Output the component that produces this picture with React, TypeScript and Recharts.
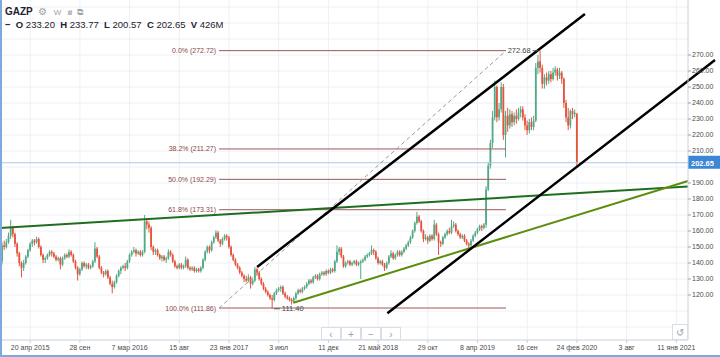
import React from "react";
import { ComposedChart, Bar, XAxis, YAxis, CartesianGrid, ReferenceLine } from "recharts";

// weekly candles [open, high, low, close], first bar = week of 19 Jan 2015
const candles2015 = [
  [141, 153, 139, 151], [151, 154, 148, 150], [150, 155, 149, 153], [153, 159, 152, 157], [157, 167, 155, 162],
  [162, 163, 156, 158], [158, 159, 150, 152], [152, 153, 144, 146], [146, 147, 138, 140], [140, 141, 131, 137],
  [137, 142, 135, 140], [140, 145, 139, 144], [144, 149, 143, 148], [148, 153, 147, 152], [152, 155, 150, 154],
  [154, 155, 151, 153], [153, 156.5, 152, 155], [155, 156, 149, 150], [150, 151, 144, 145], [145, 146, 140, 142],
  [142, 144, 140, 143], [143, 146, 142, 145], [145, 148, 144, 147], [147, 148, 144, 146], [146, 147, 143, 144],
  [144, 145, 141, 142], [142, 144, 141, 143], [143, 144, 136, 139], [139, 144, 138, 143], [143, 146, 142, 145],
  [145, 146, 143, 144], [144, 148.5, 143, 147], [147, 148, 144, 145], [145, 146, 140, 141], [141, 142, 136, 137],
  [137, 138, 129, 133], [133, 137, 132, 136], [136, 141, 135, 140], [140, 141, 137, 138], [138, 140, 136, 139],
  [139, 140, 136, 137], [137, 139, 136, 138], [138, 142, 137, 141], [141, 153, 140, 149], [149, 150, 143, 144],
  [144, 145, 136, 137], [137, 138, 133, 134], [134, 135, 131, 133], [133, 136, 132, 135], [135, 136, 130, 131],
];
const candles2016 = [
  [131, 132, 126, 127], [127, 129, 121, 125], [125, 129, 124, 128], [128, 133, 127, 132], [132, 136, 131, 135],
  [135, 138, 133, 137], [137, 139, 136, 138], [138, 140, 135, 137], [137, 142, 136, 141], [141, 146, 140, 145],
  [145, 148, 144, 147], [147, 150, 146, 148], [148, 149, 144, 146], [146, 148, 145, 147], [147, 148, 144, 145],
  [145, 148, 144, 147], [147, 170, 146, 166], [166, 168, 161, 164], [164, 166, 159, 162], [162, 163, 148, 150],
  [150, 151, 145, 147], [147, 149, 145, 148], [148, 149, 144, 145], [145, 146, 142, 143], [143, 145, 141, 144],
  [144, 145, 141, 142], [142, 144, 140, 143], [143, 148.5, 142, 147], [147, 148, 144, 145], [145, 146, 140, 141],
  [141, 142, 137, 138], [138, 139, 136, 137], [137, 140, 136, 139], [139, 140, 136, 137], [137, 139, 136, 138],
  [138, 144, 137, 142], [142, 143, 136, 137], [137, 138, 135, 136], [136, 138, 135, 137], [137, 138, 134, 135],
  [135, 137, 134, 136], [136, 137, 134, 135], [135, 138, 134, 137], [137, 143, 136, 142], [142, 148, 141, 147],
  [147, 151, 146, 150], [150, 151, 146, 148], [148, 154, 147, 153], [153, 157, 152, 156], [156, 160.5, 155, 159],
  [159, 160, 153, 154], [154, 155, 150, 152],
];
const candles2017 = [
  [152, 156, 151, 155], [155, 158, 154, 157], [157, 158, 154, 156], [156, 157, 149, 150], [150, 151, 144, 145],
  [145, 146, 141, 142], [142, 143, 138, 139], [139, 140, 136, 137], [137, 138, 133, 134], [134, 135, 131, 132],
  [132, 133, 128, 130], [130, 132, 128, 129], [129, 133, 128, 131], [131, 132, 124, 127], [127, 130, 126, 129],
  [129, 137.5, 128, 136], [136, 137, 132, 134], [134, 135, 129, 130], [130, 131, 126, 127], [127, 128, 123, 124],
  [124, 125, 121, 122], [122, 123, 119, 120], [120, 121, 117, 118], [118, 120, 111.4, 117], [117, 122, 116, 121],
  [121, 124, 120, 123], [123, 125, 122, 124], [124, 126, 122, 125], [125, 126, 120, 121], [121, 122, 118, 119],
  [119, 120, 117, 118], [118, 119, 116, 117], [117, 118, 114, 116], [116, 119, 115, 118], [118, 122, 117, 121],
  [121, 124, 120, 123], [123, 124, 121, 122], [122, 125, 121, 124], [124, 126, 123, 125], [125, 128, 124, 127],
  [127, 130, 126, 129], [129, 130, 127, 128], [128, 132, 127, 131], [131, 133, 130, 132], [132, 133, 129, 130],
  [130, 134, 129, 133], [133, 135, 132, 134], [134, 135, 132, 133], [133, 136, 132, 135], [135, 136, 133, 134],
  [134, 137, 133, 136], [136, 137, 134, 135],
];
const candles2018 = [
  [135, 142, 134, 141], [141, 151, 140, 147], [147, 150, 145, 149], [149, 150, 143, 144], [144, 145, 137, 138],
  [138, 141, 137, 140], [140, 142, 139, 141], [141, 142, 138, 139], [139, 141, 138, 140], [140, 142, 139, 141],
  [141, 142, 138, 139], [139, 141, 138, 140], [140, 142, 130, 141], [141, 143, 140, 142], [142, 145, 141, 144],
  [144, 146, 143, 145], [145, 147, 144, 146], [146, 151, 145, 148], [148, 149, 145, 147], [147, 148, 142, 143],
  [143, 144, 139, 140], [140, 142, 139, 141], [141, 142, 138, 139], [139, 140, 135, 137], [137, 141, 136, 140],
  [140, 145, 139, 144], [144, 148, 143, 146], [146, 147, 142, 143], [143, 146, 142, 145], [145, 148, 144, 147],
  [147, 148, 144, 145], [145, 148, 144, 147], [147, 150, 146, 149], [149, 152, 148, 151], [151, 154, 150, 153],
  [153, 157, 152, 156], [156, 161, 155, 160], [160, 166, 159, 165], [165, 172, 164, 169], [169, 170, 165, 166],
  [166, 167, 159, 160], [160, 161, 153, 155], [155, 158, 154, 156], [156, 157, 152, 154], [154, 158, 153, 157],
  [157, 158, 154, 155], [155, 167, 154, 164], [164, 165, 157, 158], [158, 159, 145, 153], [153, 154, 150, 152],
  [152, 157, 151, 156], [156, 159, 155, 158],
];
const candles2019 = [
  [158, 161, 157, 160], [160, 162, 158, 159], [159, 167, 158, 163], [163, 166, 162, 164], [164, 165, 159, 160],
  [160, 161, 157, 158], [158, 159, 155, 156], [156, 158, 155, 157], [157, 158, 153, 154], [154, 155, 151, 152],
  [152, 153, 149, 151], [151, 155, 150, 154], [154, 158, 153, 157], [157, 160, 156, 159], [159, 162, 158, 161],
  [161, 164, 160, 163], [163, 164, 160, 162], [162, 165, 161, 164], [164, 188, 162, 186], [186, 203, 185, 201],
  [201, 217, 199, 215], [215, 235, 212, 231], [231, 254, 229, 250], [250, 251, 228, 231], [231, 240, 229, 236],
  [236, 253, 234, 250], [250, 252, 217, 220], [220, 235, 206, 232], [232, 237, 222, 226], [226, 236, 224, 233],
  [233, 235, 225, 228], [228, 234, 226, 232], [232, 236, 227, 230], [230, 237, 229, 234], [234, 238, 231, 236],
  [236, 238, 229, 231], [231, 233, 223, 226], [226, 229, 220, 223], [223, 230, 221, 228], [228, 231, 223, 225],
  [225, 232, 223, 229], [229, 265, 228, 262], [262, 270, 258, 266], [266, 272.68, 259, 262], [262, 264, 249, 252],
  [252, 258, 249, 256], [256, 259, 251, 254], [254, 260, 252, 258], [258, 260, 253, 255], [255, 262, 254, 259],
  [259, 263, 257, 261], [261, 262, 254, 257],
];
const candles2020 = [
  [257, 262, 255, 259], [259, 260, 252, 255], [255, 256, 237, 240], [240, 242, 228, 231], [231, 237, 223, 226],
  [226, 236, 224, 235], [235, 237, 230, 233], [233, 236, 231, 234], [233.2, 233.77, 200.57, 202.65],
];

const START = Date.UTC(2015, 0, 19);
const allCandles = [...candles2015, ...candles2016, ...candles2017, ...candles2018, ...candles2019, ...candles2020];
const data = allCandles.map(([o, h, l, c], i) => ({
  w: i,
  date: new Date(START + i * 7 * 864e5).toISOString().slice(0, 10),
  o, h, l, c,
}));

// time axis: week index of each label
const dateTicks = [13, 36, 59, 82, 105, 128, 151, 174, 197, 220, 243, 266, 289, 312];
const dateLabels = [
  "20 апр 2015", "28 сен", "7 мар 2016", "15 авг", "23 янв 2017", "3 июл", "11 дек",
  "21 май 2018", "29 окт", "8 апр 2019", "16 сен", "24 фев 2020", "3 авг", "11 янв 2021",
];
const priceTicks = [120, 130, 140, 150, 160, 170, 180, 190, 210, 220, 230, 240, 250, 260, 270];
const gridPrices = [100, 110, 120, 130, 140, 150, 160, 170, 180, 190, 200, 210, 220, 230, 240, 250, 260, 270, 280, 290, 300];

const lastClose = 202.65;
const highMark = { w: 249, price: 272.68 };
const lowMark = { w: 125, price: 111.4 };

// fibonacci retracement drawing (anchors in week index / price)
const fibFrom = 100.4;
const fibTo = 233.2;
const fibLevels = [
  { label: "0.0% (272.72)", price: 272.72 },
  { label: "38.2% (211.27)", price: 211.27 },
  { label: "50.0% (192.29)", price: 192.29 },
  { label: "61.8% (173.31)", price: 173.31 },
  { label: "100.0% (111.86)", price: 111.86 },
];

// hand-drawn trend lines
const fibTrend = [{ x: 100.4, y: 111.86 }, { x: 233.2, y: 272.72 }];
const resistance = [{ x: -0.97, y: 161.9 }, { x: 317.4, y: 187.8 }];
const support = [{ x: 134.75, y: 115.2 }, { x: 317.4, y: 191.25 }];
const channelTop = [{ x: 118.0, y: 137.5 }, { x: 269.7, y: 295.6 }];
const channelBottom = [{ x: 178.3, y: 108.6 }, { x: 329.9, y: 266.9 }];

const UP = "#53a985";
const DOWN = "#e5533c";
const FIB = "#9b5858";
const FONT = "'Liberation Sans', Arial, sans-serif";

const Candle = (props: any) => {
  const { x, y, width, height, payload } = props;
  if (payload == null || x == null) return null;
  const { o, h, l, c } = payload;
  const top = Math.min(y, y + height);
  const full = Math.abs(height);
  const ppu = h > l ? full / (h - l) : 0;
  const color = c >= o ? UP : DOWN;
  const cx = x + width / 2;
  const bodyTop = top + (h - Math.max(o, c)) * ppu;
  const bodyH = Math.max(1, Math.abs(o - c) * ppu);
  return (
    <g>
      <line x1={cx} x2={cx} y1={top} y2={top + full} stroke={color} strokeWidth={1} />
      <rect x={cx - 0.9} y={bodyTop} width={1.8} height={bodyH} fill={color} />
    </g>
  );
};

const PriceTag = (props: any) => {
  const vb = props.viewBox || {};
  const right = (vb.x || 0) + (vb.width || 0);
  const yy = vb.y || 0;
  return (
    <g>
      <rect x={right} y={yy - 7} width={32} height={13} fill="#3b87d6" />
      <text x={right + 3} y={yy + 3} fontSize={7.5} fontFamily={FONT} fill="#fff" fontWeight="bold">
        {lastClose.toFixed(2)}
      </text>
    </g>
  );
};

const navBtn: React.CSSProperties = {
  width: 20, height: 13, border: "1px solid #d9dee6", background: "#fff",
  color: "#9aa0a8", fontSize: 10, lineHeight: "13px", textAlign: "center", boxSizing: "border-box",
};

export default function App() {
  return (
    <div style={{ position: "fixed", left: 0, top: 0, width: 720, height: 357, background: "#fff", fontFamily: FONT, overflow: "hidden" }}>
      <ComposedChart width={720} height={357} data={data} margin={{ top: 0, right: 0, bottom: 0, left: 0 }}>
        <CartesianGrid stroke="#eef0f3" horizontalValues={gridPrices} verticalValues={dateTicks} />
        <XAxis
          dataKey="w"
          type="number"
          domain={[-0.97, 317.4]}
          allowDataOverflow
          ticks={dateTicks}
          tickFormatter={(v: number) => dateLabels[dateTicks.indexOf(v)] ?? ""}
          height={17}
          tick={{ fontSize: 7, fill: "#4a4a4a", fontFamily: FONT }}
          tickSize={3}
          tickMargin={2}
          tickLine={{ stroke: "#c9d1de" }}
          axisLine={{ stroke: "#c9d1de" }}
          interval={0}
        />
        <YAxis
          orientation="right"
          type="number"
          domain={[91.875, 304.375]}
          allowDataOverflow
          ticks={priceTicks}
          tickFormatter={(v: number) => v.toFixed(2)}
          width={32}
          tick={{ fontSize: 7, fill: "#4a4a4a", fontFamily: FONT, textAnchor: "start" }}
          tickSize={3}
          tickMargin={1}
          tickLine={{ stroke: "#9aa3b0" }}
          axisLine={{ stroke: "#c9d1de" }}
          interval={0}
        />
        <ReferenceLine y={lastClose} stroke="#a9c8ea" strokeWidth={1} label={<PriceTag />} />
        {fibLevels.map((f) => (
          <ReferenceLine
            key={f.label}
            segment={[{ x: fibFrom, y: f.price }, { x: fibTo, y: f.price }]}
            stroke={FIB}
            strokeWidth={1}
            ifOverflow="visible"
            label={{ value: f.label, position: "left", offset: 3, fontSize: 7, fill: "#8a4646", fontFamily: FONT }}
          />
        ))}
        <ReferenceLine segment={fibTrend} stroke="#9a9a9a" strokeDasharray="4 3" strokeWidth={1} ifOverflow="visible" />
        <Bar dataKey={(d: any) => [d.l, d.h]} shape={<Candle />} barSize={2} isAnimationActive={false} />
        <ReferenceLine segment={resistance} stroke="#1f6e1f" strokeWidth={2} ifOverflow="visible" />
        <ReferenceLine segment={support} stroke="#5e8c0c" strokeWidth={2} ifOverflow="visible" />
        <ReferenceLine segment={channelTop} stroke="#000" strokeWidth={2.5} ifOverflow="visible" />
        <ReferenceLine segment={channelBottom} stroke="#000" strokeWidth={2.5} ifOverflow="visible" />
        <ReferenceLine
          segment={[{ x: highMark.w - 3.5, y: highMark.price }, { x: highMark.w - 0.8, y: highMark.price }]}
          stroke="#555"
          ifOverflow="visible"
          label={{ value: highMark.price.toFixed(2), position: "left", offset: 2, fontSize: 7.5, fill: "#444", fontFamily: FONT }}
        />
        <ReferenceLine
          segment={[{ x: lowMark.w + 0.8, y: lowMark.price }, { x: lowMark.w + 3.5, y: lowMark.price }]}
          stroke="#555"
          ifOverflow="visible"
          label={{ value: lowMark.price.toFixed(2), position: "right", offset: 2, fontSize: 7.5, fill: "#444", fontFamily: FONT }}
        />
      </ComposedChart>

      <div style={{ position: "absolute", left: 5, top: 6, fontSize: 10, fontWeight: "bold", color: "#1e222d", lineHeight: "12px" }}>
        GAZP
        <span style={{ fontWeight: "normal", color: "#9aa0a8", marginLeft: 5 }}>⚙</span>
        <span style={{ fontWeight: "normal", color: "#9aa0a8", marginLeft: 7, fontSize: 8 }}>W</span>
        <span style={{ fontWeight: "normal", color: "#9aa0a8", marginLeft: 6, fontSize: 8, letterSpacing: -1 }}>ılıl</span>
        <span style={{ fontWeight: "normal", color: "#9aa0a8", marginLeft: 6, fontSize: 9 }}>⧉</span>
      </div>
      <div style={{ position: "absolute", left: 5, top: 19, fontSize: 9.5, color: "#1e222d", lineHeight: "12px", whiteSpace: "nowrap" }}>
        <b>−</b>&nbsp; <b>O</b> 233.20&nbsp; <b>H</b> 233.77&nbsp; <b>L</b> 200.57&nbsp; <b>C</b> 202.65&nbsp; <b>V</b> 426M
      </div>

      <div style={{ position: "absolute", left: 321, top: 327, display: "flex" }}>
        <div style={navBtn}>‹</div>
        <div style={navBtn}>+</div>
        <div style={navBtn}>−</div>
        <div style={navBtn}>›</div>
      </div>
      <div style={{ ...navBtn, position: "absolute", left: 672, top: 324, width: 16, height: 16, lineHeight: "16px" }}>↺</div>

      <div style={{ position: "absolute", left: 0, top: 0, width: 2, height: 357, background: "#7ea9dc" }} />
      <div style={{ position: "absolute", left: 0, top: 355, width: 720, height: 2, background: "#7ea9dc" }} />
    </div>
  );
}
